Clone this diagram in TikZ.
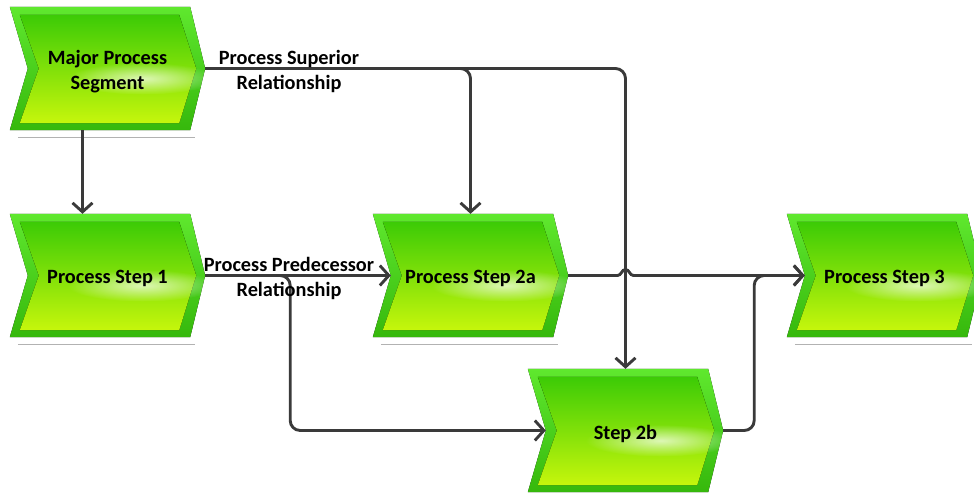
\documentclass[tikz,border=0pt]{standalone}
\usepackage{fontspec}
\setmainfont{Carlito}
\usetikzlibrary{arrows.meta,calc,fadings}
\tikzfading[name=glowfade, inner color=transparent!0, outer color=transparent!100]
\definecolor{lineC}{HTML}{3A3A3A}
\definecolor{outTop}{HTML}{5FE82E}
\definecolor{outBot}{HTML}{36B80C}
\definecolor{inTop}{HTML}{3CCB06}
\definecolor{inMid}{HTML}{7CDA0A}
\definecolor{inBot}{HTML}{C6F60C}
\tikzset{
  chevbox/.style={inner sep=0pt, minimum width=195pt, minimum height=123pt},
  chevtext/.style={font=\bfseries\fontsize{20.3}{24.5}\selectfont, align=center, inner sep=0pt, text=black},
  conn/.style={draw=lineC, line width=2.9pt, rounded corners=10pt},
  arr/.style={-{Straight Barb[length=9pt,width=20pt]}},
  lbl/.style={font=\bfseries\fontsize{20.3}{25}\selectfont, align=center, inner sep=0pt, text=black},
  outerfill/.style={top color=outTop, bottom color=outBot},
  innerfill/.style={top color=inTop, middle color=inMid, bottom color=inBot},
  shadowline/.style={draw=gray!60, line width=1.2pt},
}
\newcommand\chev[3]{%
  \node[chevbox] (#1) at (#2) {};
  \fill[outerfill] (#1.north west) -- ($(#1.north east)+(-15,0)$) -- (#1.east)
     -- ($(#1.south east)+(-15,0)$) -- (#1.south west) -- ($(#1.west)+(18,0)$) -- cycle;
  \fill[innerfill] ($(#1.north west)+(10,8)$) -- ($(#1.north east)+(-26,8)$) -- ($(#1.east)+(-9,0)$)
     -- ($(#1.south east)+(-26,-7)$) -- ($(#1.south west)+(10,-7)$) -- ($(#1.west)+(29,0)$) -- cycle;
  \fill[white, opacity=0.7, path fading=glowfade] ($(#1.center)+(35,10)$) ellipse (75 and 16);
  \draw[shadowline] ($(#1.south west)+(8,7)$) -- ($(#1.south east)+(-10,7)$);
  \node[chevtext] (#1-t) at ($(#1)+(0,3)$) {#3};
  \coordinate (#1-in) at ($(#1.west)+(18,0)$);
}
\begin{document}
\begin{tikzpicture}[x=1pt,y=-1pt]
\useasboundingbox (0,0) rectangle (974,496);
\clip (0,0) rectangle (974,496);

\chev{ms}{107.5,68.5}{Major Process\\Segment}
\chev{s1}{107.5,275.5}{Process Step 1}
\chev{s2a}{470.5,275.5}{Process Step 2a}
\chev{s2b}{625.5,430.5}{Step 2b}
\chev{s3}{884.5,275.5}{Process Step 3}

\coordinate (br1) at ($(s1.east)+(85,0)$);
\coordinate (br2) at ($(s2b.east)+(31,0)$);
\coordinate (hop) at (s2b.north |- s2a.east);

% Major -> Step 1
\draw[conn,arr] ([xshift=-25pt]ms.south) -- ([xshift=-25pt]s1.north);
% superior relationship
\draw[conn,arr] (ms.east) -| (s2a.north);
\draw[conn,arr] (ms.east) -| (s2b.north);
% predecessor relationship
\draw[conn,arr] (s1.east) -- (s2a-in);
\draw[conn,arr] (s1.east) -- (br1) |- (s2b-in);
% 2a -> 3 with hop
\draw[conn,arr,sharp corners] (s2a.east) -- ($(hop)+(-8,0)$)
   .. controls ($(hop)+(-4,0)$) and ($(hop)+(-4,-6)$) .. ($(hop)+(0,-6)$)
   .. controls ($(hop)+(4,-6)$) and ($(hop)+(4,0)$) .. ($(hop)+(8,0)$) -- (s3-in);
% 2b -> 3
\draw[conn,arr] (s2b.east) -- (br2) |- (s3-in);

\node[lbl] (lsup) at (289,71) {Process Superior\\Relationship};
\node[lbl] (lpred) at (289,278) {Process Predecessor\\Relationship};
\end{tikzpicture}
\end{document}
